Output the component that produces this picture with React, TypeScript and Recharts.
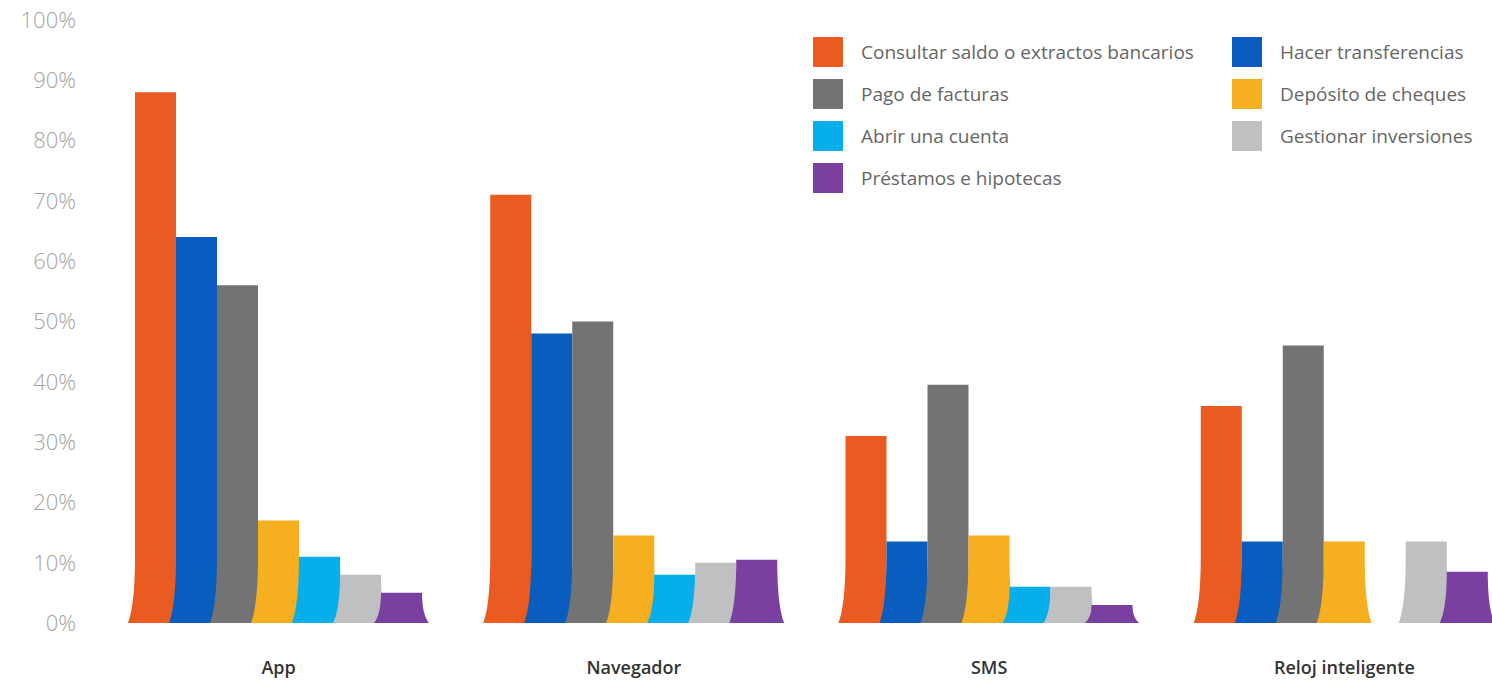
import { BarChart, Bar, XAxis, YAxis } from "recharts";

const categories = ["App", "Navegador", "SMS", "Reloj inteligente"];
const consultar = [88, 71, 31, 36];
const transferencias = [64, 48, 13.5, 13.5];
const facturas = [56, 50, 39.5, 46];
const cheques = [17, 14.5, 14.5, 13.5];
const abrirCuenta = [11, 8, 6, null];
const inversiones = [8, 10, 6, 13.5];
const prestamos = [5, 10.5, 3, 8.5];

const yTicks = [0, 10, 20, 30, 40, 50, 60, 70, 80, 90, 100];

const series = [
  { key: "consultar", name: "Consultar saldo o extractos bancarios", color: "#EA5B22", values: consultar },
  { key: "transferencias", name: "Hacer transferencias", color: "#085DBE", values: transferencias },
  { key: "facturas", name: "Pago de facturas", color: "#737373", values: facturas },
  { key: "cheques", name: "Depósito de cheques", color: "#F6AF20", values: cheques },
  { key: "abrir", name: "Abrir una cuenta", color: "#06AEEC", values: abrirCuenta },
  { key: "inversiones", name: "Gestionar inversiones", color: "#BEC0C2", values: inversiones },
  { key: "prestamos", name: "Préstamos e hipotecas", color: "#7A40A0", values: prestamos },
];

const data = categories.map((c, i) => {
  const row: Record<string, string | number | null> = { name: c };
  series.forEach((s) => {
    row[s.key] = s.values[i];
  });
  return row;
});

const FONT = "'Open Sans', 'DejaVu Sans', sans-serif";

// bar whose sides flare out near the base
function FlaredBar(props: any) {
  const { x, y, width, height, fill } = props;
  if (!height || height <= 0) return null;
  const bottom = y + height;
  const fh = Math.min(height, 66);
  const f = 7;
  const d = [
    `M ${x} ${y}`,
    `L ${x + width} ${y}`,
    `L ${x + width} ${bottom - fh}`,
    `C ${x + width} ${bottom - fh * 0.45} ${x + width + f * 0.45} ${bottom - fh * 0.15} ${x + width + f} ${bottom}`,
    `L ${x - f} ${bottom}`,
    `C ${x - f * 0.45} ${bottom - fh * 0.15} ${x} ${bottom - fh * 0.45} ${x} ${bottom - fh}`,
    "Z",
  ].join(" ");
  return <path d={d} fill={fill} />;
}

function LegendBox() {
  return (
    <div
      style={{
        position: "absolute",
        top: 37,
        left: 813,
        display: "grid",
        gridTemplateColumns: "419px auto",
        rowGap: 12,
        fontFamily: FONT,
        fontSize: 19,
        color: "#666",
      }}
    >
      {series.map((s) => (
        <div key={s.key} style={{ display: "flex", alignItems: "center", height: 30, whiteSpace: "nowrap" }}>
          <span style={{ width: 30, height: 30, background: s.color, marginRight: 18, flexShrink: 0 }} />
          <span>{s.name}</span>
        </div>
      ))}
    </div>
  );
}

export default function App() {
  return (
    <div
      style={{
        position: "absolute",
        left: 0,
        top: 0,
        width: 1492,
        height: 690,
        overflow: "hidden",
        background: "#fff",
      }}
    >
      <BarChart
        width={1530}
        height={690}
        data={data}
        margin={{ top: 20, right: 8, left: 0, bottom: 0 }}
        barGap={0}
        barSize={41}
      >
        <XAxis
          dataKey="name"
          axisLine={false}
          tickLine={false}
          height={67}
          tickMargin={32}
          tick={{ fontFamily: FONT, fontSize: 18, fontWeight: 600, fill: "#333" }}
        />
        <YAxis
          domain={[0, 100]}
          ticks={yTicks}
          width={101}
          axisLine={false}
          tickLine={false}
          tickMargin={19}
          tickFormatter={(v) => `${v}%`}
          tick={{ fontFamily: FONT, fontSize: 22, fontWeight: 300, fill: "#a3a3a3" }}
        />
        {series.map((s) => (
          <Bar
            key={s.key}
            dataKey={s.key}
            name={s.name}
            fill={s.color}
            shape={<FlaredBar />}
            isAnimationActive={false}
          />
        ))}
      </BarChart>
      <LegendBox />
    </div>
  );
}
